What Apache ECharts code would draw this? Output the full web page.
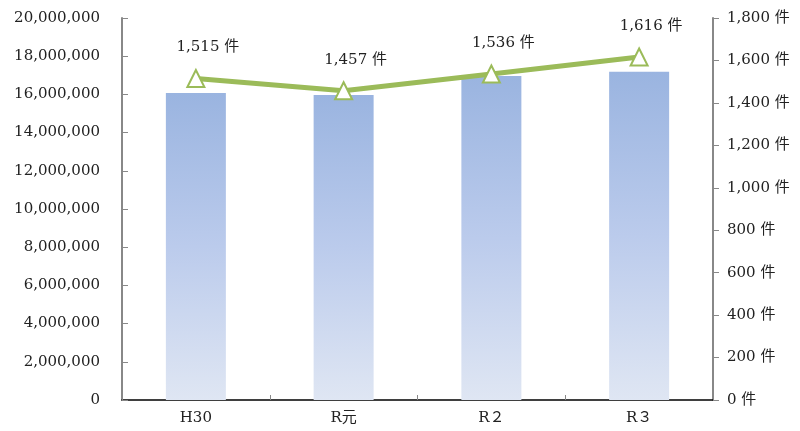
<!DOCTYPE html>
<html>
<head>
<meta charset="utf-8">
<script src="https://cdn.jsdelivr.net/npm/echarts@6/dist/echarts.min.js"></script>
<style>
  html, body { margin: 0; padding: 0; background: #fff; }
  #chart { width: 800px; height: 431px; }
</style>
</head>
<body>
<div id="chart"></div>
<script>
  // 年度
  const categories = ['H30', 'R元', 'R２', 'R３'];
  // 棒グラフ（左軸）
  const barValues = [16070000, 15970000, 16960000, 17190000];
  // 折れ線（右軸・件数）
  const lineValues = [1515, 1457, 1536, 1616];

  const font = "'DejaVu Serif', 'Liberation Serif', 'Noto Sans CJK JP', serif";
  const fmt = v => v.toLocaleString('en-US');

  const chart = echarts.init(document.getElementById('chart'));
  const option = {
    animation: false,
    grid: { left: 122, right: 87, top: 18, bottom: 31 },
    xAxis: {
      type: 'category',
      data: categories,
      boundaryGap: true,
      axisLine: { lineStyle: { color: '#000', width: 1.5 } },
      axisTick: { show: true, inside: true, length: 5, lineStyle: { color: '#888' } },
      axisLabel: { color: '#222', fontSize: 15, fontFamily: font, margin: 11 }
    },
    yAxis: [{
      type: 'value',
      min: 0,
      max: 20000000,
      interval: 2000000,
      axisLine: { show: true, lineStyle: { color: '#888', width: 2 } },
      axisTick: { show: true, inside: true, length: 6, lineStyle: { color: '#888' } },
      splitLine: { show: false },
      axisLabel: { color: '#222', fontSize: 15, fontFamily: font, margin: 22, formatter: fmt }
    }, {
      type: 'value',
      min: 0,
      max: 1800,
      interval: 200,
      axisLine: { show: true, lineStyle: { color: '#888', width: 2 } },
      axisTick: { show: true, length: 6, lineStyle: { color: '#888' } },
      splitLine: { show: false },
      axisLabel: { color: '#222', fontSize: 15, fontFamily: font, margin: 14,
        formatter: v => fmt(v) + ' 件' }
    }],
    series: [{
      type: 'bar',
      data: barValues,
      barWidth: 60,
      itemStyle: {
        color: new echarts.graphic.LinearGradient(0, 0, 0, 1, [
          { offset: 0, color: '#9AB4E0' },
          { offset: 0.5, color: '#BBCBEC' },
          { offset: 1, color: '#DFE6F3' }
        ])
      }
    }, {
      type: 'line',
      yAxisIndex: 1,
      data: lineValues,
      symbol: 'triangle',
      symbolSize: 17,
      lineStyle: { color: '#9BBB59', width: 5 },
      itemStyle: { color: '#fff', borderColor: '#9BBB59', borderWidth: 2 },
      label: {
        show: true,
        position: 'top',
        distance: 14,
        offset: [12, 0],
        color: '#222',
        fontSize: 15,
        fontFamily: font,
        formatter: p => fmt(p.value) + ' 件'
      },
      z: 5
    }]
  };
  chart.setOption(option);
</script>
</body>
</html>
